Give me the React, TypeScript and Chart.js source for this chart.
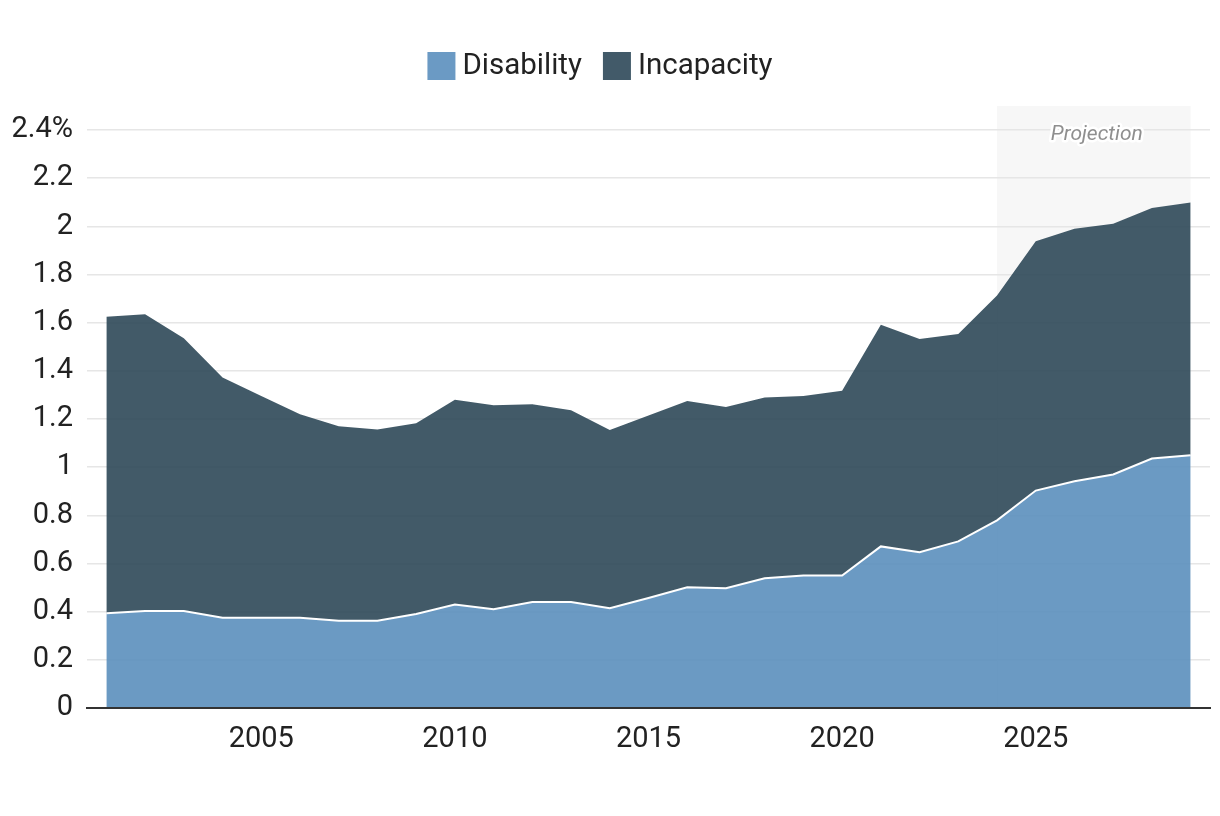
import React, { useEffect, useRef } from 'react';
import { Chart, registerables } from 'chart.js';

Chart.register(...registerables);

const years = [
  2001, 2002, 2003, 2004, 2005, 2006, 2007, 2008, 2009, 2010,
  2011, 2012, 2013, 2014, 2015, 2016, 2017, 2018, 2019, 2020,
  2021, 2022, 2023, 2024, 2025, 2026, 2027, 2028, 2029,
];

const disability = [
  0.393, 0.403, 0.403, 0.375, 0.375, 0.375, 0.362, 0.362, 0.39, 0.43,
  0.41, 0.44, 0.44, 0.414, 0.457, 0.501, 0.497, 0.539, 0.55, 0.55,
  0.671, 0.647, 0.692, 0.779, 0.903, 0.942, 0.97, 1.036, 1.05,
];

const incapacity = [
  1.232, 1.232, 1.133, 0.997, 0.921, 0.845, 0.808, 0.795, 0.792, 0.85,
  0.847, 0.821, 0.796, 0.741, 0.758, 0.774, 0.753, 0.75, 0.746, 0.767,
  0.921, 0.885, 0.861, 0.934, 1.035, 1.048, 1.041, 1.04, 1.049,
];

const seriesNames = ['Disability', 'Incapacity'];
const seriesColors = ['rgba(91,143,189,0.9)', 'rgba(45,72,88,0.9)'];
const legendColors = ['#6b9ac4', '#425a69'];

const yTicks = [0, 0.2, 0.4, 0.6, 0.8, 1, 1.2, 1.4, 1.6, 1.8, 2, 2.2, 2.4];
const xTickYears = [2005, 2010, 2015, 2020, 2025];

const projectionStart = 2024;
const projectionEnd = 2029;
const projectionLabel = 'Projection';

const FONT = 'Roboto';
const TEXT_COLOR = '#222222';

const projectionPlugin = {
  id: 'projectionBand',
  beforeDraw(chart: any) {
    const { ctx, chartArea, scales } = chart;
    const x0 = scales.x.getPixelForValue(years.indexOf(projectionStart));
    const x1 = scales.x.getPixelForValue(years.indexOf(projectionEnd));
    ctx.save();
    ctx.fillStyle = '#f7f7f7';
    ctx.fillRect(x0, chartArea.top, x1 - x0, chartArea.bottom - chartArea.top);
    ctx.restore();
  },
  afterDraw(chart: any) {
    const { ctx, chartArea, scales } = chart;
    const x0 = scales.x.getPixelForValue(years.indexOf(projectionStart));
    const x1 = scales.x.getPixelForValue(years.indexOf(projectionEnd));
    const cx = (x0 + x1) / 2 + 3;
    const cy = chartArea.top + 29;
    ctx.save();
    ctx.font = `italic 21px ${FONT}`;
    ctx.textAlign = 'center';
    ctx.textBaseline = 'middle';
    ctx.lineJoin = 'round';
    ctx.strokeStyle = '#ffffff';
    ctx.lineWidth = 5;
    ctx.strokeText(projectionLabel, cx, cy);
    ctx.fillStyle = '#8f8f8f';
    ctx.fillText(projectionLabel, cx, cy);
    ctx.restore();
  },
};

const legendPlugin = {
  id: 'customLegend',
  afterDraw(chart: any) {
    const { ctx } = chart;
    const box = 28;
    const gapText = 7;
    const gapItem = 21;
    ctx.save();
    ctx.font = `29.5px ${FONT}`;
    const widths = seriesNames.map((n) => ctx.measureText(n).width);
    let total = 0;
    widths.forEach((w, i) => {
      total += box + gapText + w + (i < widths.length - 1 ? gapItem : 0);
    });
    let x = 592 - total / 2;
    const cy = 58;
    ctx.textBaseline = 'middle';
    ctx.textAlign = 'left';
    seriesNames.forEach((n, i) => {
      ctx.fillStyle = legendColors[i];
      ctx.fillRect(x, cy - box / 2, box, box);
      x += box + gapText;
      ctx.fillStyle = TEXT_COLOR;
      ctx.fillText(n, x, cy + 1);
      x += widths[i] + gapItem;
    });
    ctx.restore();
  },
};

export default function App() {
  const ref = useRef<HTMLCanvasElement | null>(null);

  useEffect(() => {
    if (!ref.current) return;
    const chart = new Chart(ref.current, {
      type: 'line',
      data: {
        labels: years.map(String),
        datasets: [
          {
            label: seriesNames[0],
            data: disability,
            backgroundColor: seriesColors[0],
            borderColor: '#ffffff',
            borderWidth: 2,
            fill: 'origin',
            pointRadius: 0,
            tension: 0,
          },
          {
            label: seriesNames[1],
            data: incapacity,
            backgroundColor: seriesColors[1],
            borderColor: 'rgba(0,0,0,0)',
            borderWidth: 0,
            fill: '-1',
            pointRadius: 0,
            tension: 0,
          },
        ],
      },
      options: {
        responsive: true,
        maintainAspectRatio: false,
        animation: false,
        layout: { padding: { top: 98, left: 2, right: 2, bottom: 0 } },
        plugins: {
          legend: { display: false },
          tooltip: { enabled: false },
        },
        scales: {
          x: {
            type: 'category',
            offset: true,
            grid: { display: false, drawTicks: false },
            border: { display: true, color: '#333333', width: 2, z: 1 },
            ticks: {
              autoSkip: false,
              maxRotation: 0,
              padding: 14,
              color: TEXT_COLOR,
              font: { family: FONT, size: 29 },
              callback: (_v: any, i: number) =>
                xTickYears.includes(years[i]) ? String(years[i]) : '',
            },
            afterFit: (scale: any) => {
              scale.height = 100;
            },
          },
          y: {
            stacked: true,
            min: 0,
            max: 2.5,
            grid: { color: '#e6e6e6', lineWidth: 1.5, drawTicks: false },
            border: { display: false },
            afterBuildTicks: (scale: any) => {
              scale.ticks = yTicks.map((v) => ({ value: v }));
            },
            ticks: {
              padding: 14,
              color: TEXT_COLOR,
              font: { family: FONT, size: 29 },
              callback: (v: any) => {
                const n = Number(Number(v).toFixed(1));
                return n === 2.4 ? '2.4%' : String(n);
              },
            },
            afterFit: (scale: any) => {
              scale.width = 77;
            },
          },
        },
      },
      plugins: [projectionPlugin, legendPlugin],
    });
    return () => chart.destroy();
  }, []);

  return (
    <div style={{ width: 1204, height: 800, position: 'relative' }}>
      <canvas ref={ref} />
    </div>
  );
}
